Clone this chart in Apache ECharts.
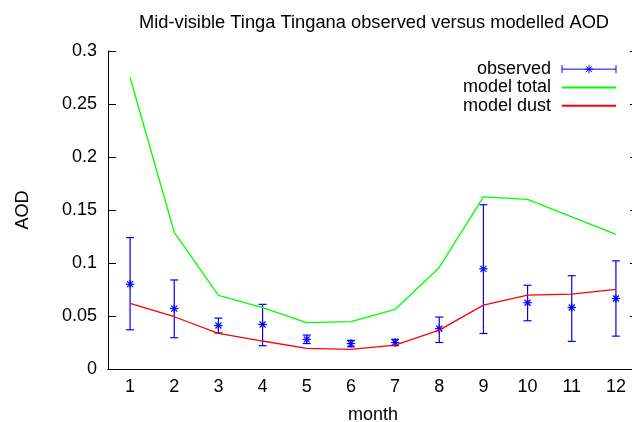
<!DOCTYPE html>
<html>
<head>
<meta charset="utf-8">
<script src="https://cdn.jsdelivr.net/npm/echarts@6/dist/echarts.min.js"></script>
<style>
  html, body { margin: 0; padding: 0; background: #fff; }
  #chart { width: 632px; height: 422px; }
</style>
</head>
<body>
<div id="chart"></div>
<script>
  // monthly AOD at Tinga Tingana
  const months = ['1', '2', '3', '4', '5', '6', '7', '8', '9', '10', '11', '12'];
  const obsMean = [0.080, 0.057, 0.041, 0.042, 0.028, 0.024, 0.025, 0.038, 0.0945, 0.0625, 0.058, 0.0665];
  const obsLow  = [0.037, 0.0295, 0.034, 0.022, 0.024, 0.021, 0.022, 0.025, 0.0335, 0.0455, 0.026, 0.031];
  const obsHigh = [0.124, 0.084, 0.048, 0.061, 0.032, 0.027, 0.028, 0.049, 0.155, 0.079, 0.088, 0.102];
  const modelTotal = [0.275, 0.129, 0.0694, 0.0578, 0.0437, 0.0446, 0.0562, 0.0958, 0.1624, 0.160, 0.1435, 0.127];
  const modelDust  = [0.0619, 0.0493, 0.0336, 0.0264, 0.0195, 0.0186, 0.0226, 0.0367, 0.0603, 0.0697, 0.0707, 0.0751];

  const FONT = 'Liberation Sans';
  const FS = 18;
  const BLUE = '#0000ff';

  const obsData = months.map((m, i) => [i, obsMean[i], obsLow[i], obsHigh[i]]);

  const chart = echarts.init(document.getElementById('chart'));

  function renderErrorBar(params, api) {
    const x = api.value(0);
    const mid = api.coord([x, api.value(1)]);
    const lo = api.coord([x, api.value(2)]);
    const hi = api.coord([x, api.value(3)]);
    const cap = 4;
    const s = 4.2;
    const d = 3;
    const style = { stroke: BLUE, lineWidth: 1.2, fill: null };
    const seg = (x1, y1, x2, y2) => ({ type: 'line', shape: { x1, y1, x2, y2 }, style });
    return {
      type: 'group',
      children: [
        seg(hi[0], hi[1], lo[0], lo[1]),
        seg(hi[0] - cap, hi[1], hi[0] + cap, hi[1]),
        seg(lo[0] - cap, lo[1], lo[0] + cap, lo[1]),
        seg(mid[0] - s, mid[1], mid[0] + s, mid[1]),
        seg(mid[0], mid[1] - s, mid[0], mid[1] + s),
        seg(mid[0] - d, mid[1] - d, mid[0] + d, mid[1] + d),
        seg(mid[0] - d, mid[1] + d, mid[0] + d, mid[1] - d)
      ]
    };
  }

  const option = {
    animation: false,
    backgroundColor: '#fff',
    textStyle: { fontFamily: FONT, color: '#000' },
    title: {
      text: 'Mid-visible Tinga Tingana observed versus modelled AOD',
      left: 374,
      top: 14,
      padding: 0,
      textAlign: 'center',
      textStyle: { fontFamily: FONT, fontSize: 18.3, fontWeight: 'normal', color: '#000' }
    },
    legend: {
      orient: 'vertical',
      align: 'right',
      right: 15,
      top: 60,
      padding: 0,
      itemWidth: 54,
      itemHeight: 10,
      itemGap: 0,
      textStyle: { fontFamily: FONT, fontSize: FS, lineHeight: 18.3, color: '#000', padding: [0, 6, 0, 0] },
      data: [
        {
          name: 'observed',
          icon: 'path://M0,1L0,9M0,5L54,5M54,1L54,9M23,5L31,5M27,1L27,9M24,2L30,8M30,2L24,8',
          itemStyle: { color: 'transparent', borderColor: BLUE, borderWidth: 1 }
        },
        { name: 'model total', itemStyle: { opacity: 0 } },
        { name: 'model dust', itemStyle: { opacity: 0 } }
      ]
    },
    grid: { left: 108, right: -6, top: 51, bottom: 53, containLabel: false, outerBoundsMode: 'none' },
    xAxis: [
      {
        type: 'category',
        data: months,
        boundaryGap: true,
        name: 'month',
        nameLocation: 'middle',
        nameGap: 37,
        nameTextStyle: { fontFamily: FONT, fontSize: FS, color: '#000' },
        axisLine: { lineStyle: { color: '#000', width: 1 } },
        axisTick: { inside: true, length: 8, alignWithLabel: true, lineStyle: { color: '#000' } },
        axisLabel: { fontFamily: FONT, fontSize: FS, color: '#000', margin: 9 },
        splitLine: { show: false }
      },
      {
        type: 'category',
        data: months,
        position: 'top',
        boundaryGap: true,
        axisLine: { lineStyle: { color: '#000', width: 1 } },
        axisTick: { inside: true, length: 8, alignWithLabel: true, lineStyle: { color: '#000' } },
        axisLabel: { show: false },
        splitLine: { show: false }
      }
    ],
    yAxis: [
      {
        type: 'value',
        min: 0,
        max: 0.3,
        interval: 0.05,
        name: 'AOD',
        nameLocation: 'middle',
        nameGap: 76,
        nameRotate: 90,
        nameTextStyle: { fontFamily: FONT, fontSize: FS, color: '#000' },
        axisLine: { show: true, lineStyle: { color: '#000', width: 1 } },
        axisTick: { show: true, inside: true, length: 8, lineStyle: { color: '#000' } },
        axisLabel: { fontFamily: FONT, fontSize: FS, color: '#000', margin: 11 },
        splitLine: { show: false }
      },
      {
        type: 'value',
        min: 0,
        max: 0.3,
        interval: 0.05,
        position: 'right',
        axisLine: { show: true, lineStyle: { color: '#000', width: 1 } },
        axisTick: { show: true, inside: true, length: 8, lineStyle: { color: '#000' } },
        axisLabel: { show: false },
        splitLine: { show: false }
      }
    ],
    series: [
      {
        name: 'observed',
        type: 'custom',
        renderItem: renderErrorBar,
        itemStyle: { color: BLUE },
        encode: { x: 0, y: [1, 2, 3] },
        data: obsData,
        z: 3
      },
      {
        name: 'model total',
        type: 'line',
        data: modelTotal,
        symbol: 'none',
        color: '#00ff00',
        lineStyle: { color: '#00ff00', width: 1.3 }
      },
      {
        name: 'model dust',
        type: 'line',
        data: modelDust,
        symbol: 'none',
        color: '#ff0000',
        lineStyle: { color: '#ff0000', width: 1.3 }
      }
    ]
  };

  chart.setOption(option);
</script>
</body>
</html>
